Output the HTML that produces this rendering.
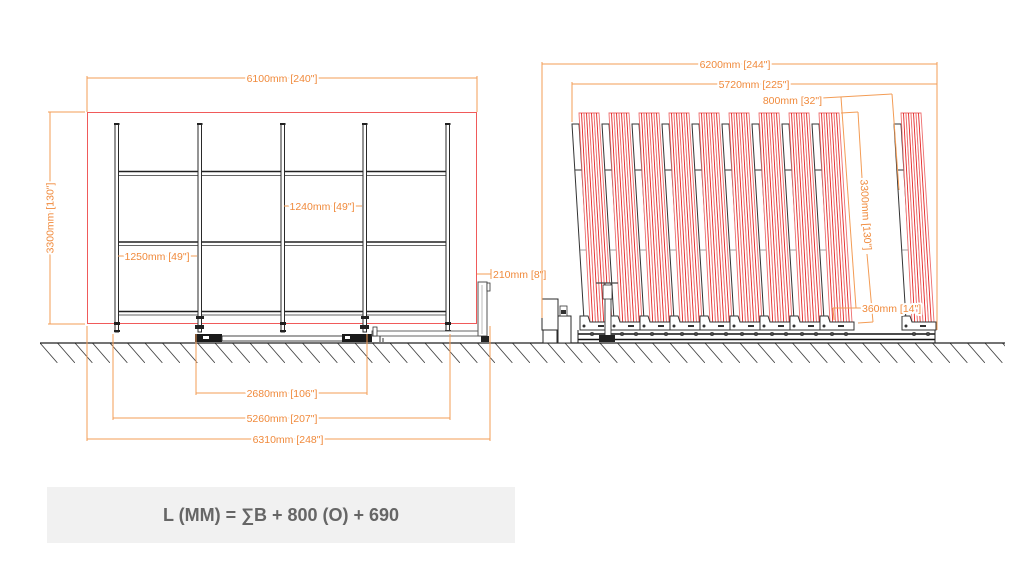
<!DOCTYPE html>
<html><head><meta charset="utf-8"><style>
html,body{margin:0;padding:0;background:#fff;}
svg{display:block;}
.d{font-family:"Liberation Sans",sans-serif;font-size:10.5px;fill:#f08a3c;paint-order:stroke;stroke:#fff;stroke-width:4px;stroke-linejoin:round;}
.o{stroke:#f39c55;stroke-width:1;fill:none;}
.k{stroke:#2a2a2a;stroke-width:1;fill:#fff;}
</style></head><body>
<svg width="1024" height="573" viewBox="0 0 1024 573" xmlns="http://www.w3.org/2000/svg">
<defs>
<pattern id="hatch" patternUnits="userSpaceOnUse" x="40" y="343" width="17.5" height="20">
<line x1="0" y1="0" x2="17.5" y2="20" stroke="#444" stroke-width="0.9"/>
</pattern>
<g id="rack">
 <polygon points="572,124 579,124 591,320 584,320" fill="#fff" stroke="#333" stroke-width="1"/>
 <line x1="575" y1="170" x2="582" y2="170" stroke="#333"/>
 <line x1="580" y1="250" x2="587" y2="250" stroke="#777" stroke-width="0.7"/>
 <g fill="#fff" stroke="#ee6e6e" stroke-width="0.9">
  <polygon points="579,113 584,113 595.5,322 590,322"/>
  <polygon points="584,113 589,113 601,322 595.5,322"/>
  <polygon points="589,113 594,113 606.5,322 601,322"/>
  <polygon points="594,113 599,113 612,322 606.5,322"/>
 </g>
 <g stroke="#e52525" stroke-width="0.9">
  <line x1="581.5" y1="113" x2="592.7" y2="322"/>
  <line x1="586.5" y1="113" x2="598.2" y2="322"/>
  <line x1="591.5" y1="113" x2="603.7" y2="322"/>
  <line x1="596.5" y1="113" x2="609.2" y2="322"/>
 </g>
 <polygon points="580,316 588,316 590,322 614,322 614,330 580,330" fill="#fff" stroke="#333" stroke-width="1"/>
 <circle cx="584" cy="326" r="1.5" fill="#333"/>
 <circle cx="592" cy="334" r="1.6" fill="none" stroke="#333" stroke-width="0.8"/>
 <circle cx="606" cy="334" r="1.6" fill="none" stroke="#333" stroke-width="0.8"/>
 <rect x="598" y="325" width="6" height="2" fill="#333"/>
</g>
</defs>

<!-- ground -->
<rect x="40" y="343" width="965" height="20" fill="url(#hatch)"/>
<line x1="40" y1="343" x2="1005" y2="343" stroke="#222" stroke-width="1.2"/>

<!-- LEFT FRAME -->
<rect x="87.5" y="112.5" width="389" height="211" fill="none" stroke="#f05a5a" stroke-width="1"/>
<!-- beams -->
<g>
 <line x1="118" y1="171.5" x2="447" y2="171.5" stroke="#222" stroke-width="1.6"/>
 <line x1="118" y1="175.5" x2="447" y2="175.5" stroke="#666" stroke-width="1"/>
 <line x1="118" y1="242" x2="447" y2="242" stroke="#222" stroke-width="1.6"/>
 <line x1="118" y1="245.5" x2="447" y2="245.5" stroke="#666" stroke-width="1"/>
 <line x1="118" y1="311.5" x2="447" y2="311.5" stroke="#222" stroke-width="1.6"/>
 <line x1="118" y1="315" x2="447" y2="315" stroke="#666" stroke-width="1"/>
</g>
<!-- posts -->
<g class="k">
 <rect x="115" y="124" width="3.5" height="208"/>
 <rect x="198" y="124" width="3.5" height="208"/>
 <rect x="281" y="124" width="3.5" height="208"/>
 <rect x="363" y="124" width="3.5" height="208"/>
 <rect x="446" y="124" width="3.5" height="208"/>
</g>
<g fill="#222">
 <rect x="114" y="123" width="5.5" height="2"/><rect x="197" y="123" width="5.5" height="2"/>
 <rect x="280" y="123" width="5.5" height="2"/><rect x="362" y="123" width="5.5" height="2"/>
 <rect x="445" y="123" width="5.5" height="2"/>
 <rect x="114" y="322" width="6" height="3"/><rect x="280" y="322" width="6" height="3"/><rect x="445" y="322" width="6" height="3"/>
 <rect x="196" y="316" width="8" height="3"/><rect x="195" y="325" width="9" height="4"/>
 <rect x="361" y="316" width="8" height="3"/><rect x="360" y="325" width="9" height="4"/>
 <rect x="114" y="330" width="6" height="2"/><rect x="280" y="330" width="6" height="2"/><rect x="445" y="330" width="6" height="2"/>
</g>
<!-- carriages -->
<g>
 <rect x="195" y="334" width="27" height="8" fill="#1a1a1a"/>
 <rect x="203" y="336" width="6" height="3" fill="#fff"/>
 <rect x="222" y="336" width="121" height="5" fill="#fff" stroke="#333" stroke-width="0.9"/>
 <rect x="342" y="334" width="30" height="8" fill="#1a1a1a"/>
 <rect x="345" y="336" width="5" height="3" fill="#fff"/>
 <rect x="372" y="331" width="115" height="5" fill="#fff" stroke="#555" stroke-width="0.9"/>
 <rect x="373" y="327" width="4" height="9" fill="#fff" stroke="#333" stroke-width="0.8"/>
 <line x1="380" y1="336" x2="380" y2="342" stroke="#333"/>
 <line x1="383" y1="338" x2="383" y2="342" stroke="#333"/>
</g>
<!-- left cart post -->
<rect x="478" y="282" width="9" height="54" fill="#fff" stroke="#555" stroke-width="1"/>
<line x1="482" y1="285" x2="482" y2="334" stroke="#aaa" stroke-width="0.8"/>
<rect x="487" y="283" width="3" height="8" fill="#fff" stroke="#333" stroke-width="0.8"/>
<rect x="481" y="336" width="8" height="6" fill="#222"/>

<!-- LEFT DIMENSIONS -->
<g class="o">
 <line x1="87" y1="78" x2="477" y2="78"/>
 <line x1="87" y1="76" x2="87" y2="112"/>
 <line x1="477" y1="76" x2="477" y2="112"/>
 <line x1="50" y1="112" x2="50" y2="324"/>
 <line x1="48" y1="112" x2="85" y2="112"/>
 <line x1="48" y1="324" x2="85" y2="324"/>
 <line x1="284" y1="206" x2="362" y2="206"/>
 <line x1="118" y1="256" x2="197" y2="256"/>
 <line x1="477" y1="274" x2="491" y2="274"/>
 <line x1="491" y1="269" x2="491" y2="279"/>
 <line x1="87" y1="326" x2="87" y2="441"/>
 <line x1="113" y1="334" x2="113" y2="420"/>
 <line x1="196" y1="334" x2="196" y2="395"/>
 <line x1="367" y1="334" x2="367" y2="395"/>
 <line x1="450" y1="334" x2="450" y2="420"/>
 <line x1="490" y1="326" x2="490" y2="441"/>
 <line x1="196" y1="393" x2="367" y2="393"/>
 <line x1="113" y1="418" x2="450" y2="418"/>
 <line x1="87" y1="439" x2="490" y2="439"/>
</g>
<text class="d" x="282" y="82" text-anchor="middle">6100mm [240"]</text>
<text class="d" transform="translate(53.7,218) rotate(-90)" text-anchor="middle">3300mm [130"]</text>
<text class="d" x="322" y="210" text-anchor="middle">1240mm [49"]</text>
<text class="d" x="157" y="260" text-anchor="middle">1250mm [49"]</text>
<text class="d" x="493" y="278">210mm [8"]</text>
<text class="d" x="282" y="397" text-anchor="middle">2680mm [106"]</text>
<text class="d" x="282" y="422" text-anchor="middle">5260mm [207"]</text>
<text class="d" x="288" y="443" text-anchor="middle">6310mm [248"]</text>

<!-- RIGHT SIDE -->
<g class="k">
 <rect x="542" y="299" width="16" height="31"/>
 <rect x="543" y="330" width="14" height="13"/>
 <rect x="558" y="316" width="13" height="27"/>
</g>
<rect x="560" y="306" width="7" height="10" fill="#fff" stroke="#333" stroke-width="0.8"/>
<rect x="561" y="310" width="5" height="4" fill="#333"/>
<line x1="578" y1="334" x2="935" y2="334" stroke="#111" stroke-width="1.6"/>
<line x1="578" y1="339.5" x2="935" y2="339.5" stroke="#111" stroke-width="1.6"/>
<line x1="578" y1="330" x2="578" y2="343" stroke="#222"/>
<line x1="935" y1="328" x2="935" y2="343" stroke="#222"/>
<use href="#rack"/>
<use href="#rack" transform="translate(30,0)"/>
<use href="#rack" transform="translate(60,0)"/>
<use href="#rack" transform="translate(90,0)"/>
<use href="#rack" transform="translate(120,0)"/>
<use href="#rack" transform="translate(150,0)"/>
<use href="#rack" transform="translate(180,0)"/>
<use href="#rack" transform="translate(210,0)"/>
<use href="#rack" transform="translate(240,0)"/>
<use href="#rack" transform="translate(322,0)"/>
<rect x="605" y="283" width="6" height="53" fill="#fff" stroke="#444" stroke-width="1"/>
<line x1="596" y1="283" x2="618" y2="283" stroke="#444" stroke-width="1.2"/>
<rect x="603" y="285" width="9" height="14" fill="#fff" stroke="#333" stroke-width="0.8"/>
<rect x="599" y="335" width="16" height="7" fill="#222"/>

<!-- RIGHT DIMENSIONS -->
<g class="o">
 <line x1="542" y1="64" x2="937" y2="64"/>
 <line x1="542" y1="62" x2="542" y2="318"/>
 <line x1="937" y1="62" x2="937" y2="330"/>
 <line x1="572" y1="84" x2="937" y2="84"/>
 <line x1="572" y1="82" x2="572" y2="122"/>
 <line x1="822" y1="98" x2="892" y2="94"/>
 <line x1="841" y1="97" x2="856" y2="308"/>
 <line x1="892" y1="94" x2="899" y2="190"/>
 <line x1="841" y1="113" x2="858" y2="112"/>
 <line x1="858" y1="112" x2="862" y2="178"/>
 <line x1="867" y1="254" x2="873" y2="322"/>
 <line x1="873" y1="322" x2="858" y2="323"/>
 <line x1="833" y1="308" x2="861" y2="308"/>
 <line x1="833" y1="308" x2="834" y2="320"/>
</g>
<text class="d" x="735" y="68" text-anchor="middle">6200mm [244"]</text>
<text class="d" x="754" y="88" text-anchor="middle">5720mm [225"]</text>
<text class="d" x="822" y="104" text-anchor="end">800mm [32"]</text>
<text class="d" transform="translate(862.5,215) rotate(86.6)" text-anchor="middle">3300mm [130"]</text>
<text class="d" x="862" y="312">360mm [14"]</text>

<!-- formula -->
<rect x="47" y="487" width="468" height="56" fill="#f1f1f1"/>
<text x="281" y="521" text-anchor="middle" font-family="'Liberation Sans',sans-serif" font-size="18" font-weight="bold" fill="#666">L (MM) = ∑B + 800 (O) + 690</text>
</svg>
</body></html>
